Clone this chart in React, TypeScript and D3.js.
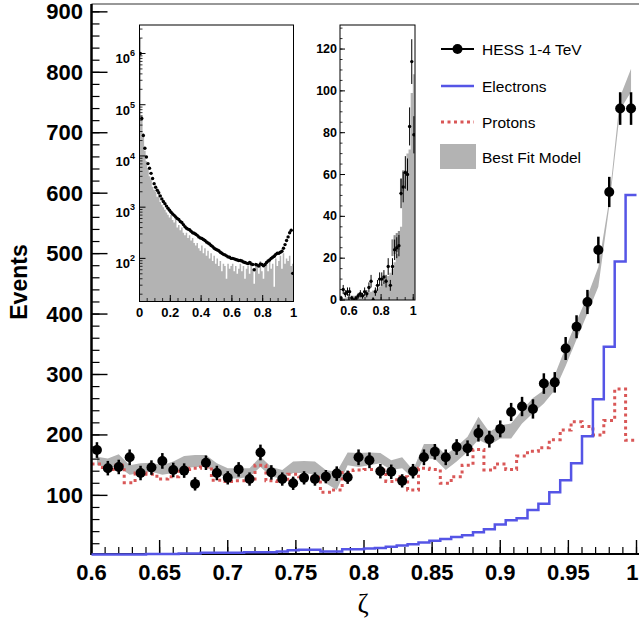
import * as d3 from "d3";

// main histogram: 50 bins of zeta between 0.6 and 1.0
const binEdges = d3.range(51).map((i) => 0.6 + i * 0.008);
const binCenters = d3.range(50).map((i) => 0.604 + i * 0.008);

const hessCounts = [
  175, 145, 147, 163, 137, 146, 157, 142, 141, 119,
  154, 137, 129, 143, 127, 171, 138, 127, 120, 129,
  127, 131, 136, 130, 163, 158, 140, 139, 124, 140,
  163, 172, 163, 180, 178, 203, 193, 210, 238, 247,
  243, 285, 287, 343, 379, 420, 506, 602, 740, 740,
];
const hessErrors = [
  13, 12, 12, 13, 12, 12, 13, 12, 12, 11,
  12, 12, 11, 12, 11, 13, 12, 11, 11, 11,
  11, 11, 12, 11, 13, 13, 12, 12, 11, 12,
  13, 13, 13, 13, 13, 14, 14, 14, 15, 16,
  16, 17, 17, 19, 19, 20, 22, 25, 27, 27,
];
const modelLow = [
  150, 147, 147, 134, 137, 139, 134, 137, 145, 147,
  147, 137, 128, 128, 131, 147, 131, 128, 137, 137,
  134, 120, 109, 150, 147, 150, 153, 142, 145, 128,
  161, 160, 142, 156, 172, 192, 183, 194, 194, 219,
  236, 252, 274, 314, 358, 401, 445, 578, 738, 768,
];
const modelHigh = [
  164, 161, 168, 150, 153, 154, 150, 156, 165, 167,
  167, 153, 145, 145, 145, 164, 147, 142, 156, 157,
  156, 142, 139, 171, 170, 171, 170, 158, 163, 142,
  185, 185, 167, 181, 197, 230, 205, 216, 219, 241,
  261, 274, 299, 345, 388, 430, 478, 589, 760, 806,
];
const electrons = [
  2, 2, 2, 2, 2, 3, 3, 3, 4, 4,
  5, 5, 5, 5, 6, 6, 6, 7, 9, 10,
  10, 7, 7, 11, 11, 12, 13, 15, 17, 19,
  22, 25, 28, 31, 34, 39, 44, 52, 59, 62,
  76, 86, 105, 125, 153, 198, 259, 346, 487, 597,
];
const protons = [
  152, 143, 150, 121, 137, 135, 127, 131, 143, 145,
  147, 125, 123, 124, 127, 150, 124, 123, 135, 131,
  130, 105, 109, 138, 142, 143, 142, 123, 131, 109,
  145, 143, 120, 131, 150, 176, 142, 152, 143, 165,
  173, 179, 192, 208, 222, 214, 200, 224, 276, 191,
];

const xMajor = [0.6, 0.65, 0.7, 0.75, 0.8, 0.85, 0.9, 0.95, 1];
const xMajorLabels = ["0.6", "0.65", "0.7", "0.75", "0.8", "0.85", "0.9", "0.95", "1"];
const yMajor = [100, 200, 300, 400, 500, 600, 700, 800, 900];

// inset 1: full zeta range, log scale, 100 bins of 0.01
const fullCounts = [
  1000000, 53700, 25100, 14100, 9550, 7080, 5750, 4570, 3630, 2880,
  2450, 2140, 1910, 1660, 1450, 1290, 1170, 1050, 955, 870,
  794, 741, 692, 646, 603, 575, 525, 501, 457, 417,
  389, 372, 363, 339, 316, 309, 295, 282, 263, 251,
  245, 234, 224, 209, 200, 191, 178, 170, 158, 151,
  146, 141, 132, 126, 120, 117, 112, 107, 105, 100,
  100, 98, 95, 93, 91, 91, 89, 85, 83, 81,
  79, 83, 78, 76, 60, 76, 74, 71, 78, 76,
  72, 76, 83, 89, 93, 100, 105, 110, 120, 126,
  126, 132, 138, 158, 186, 224, 263, 316, 355, 51,
];
const fullModel = [
  2000000, 63000, 28000, 12600, 7900, 5600, 4000, 3500, 2500, 2200,
  2000, 1600, 2200, 1260, 1120, 1000, 890, 790, 710, 630,
  710, 560, 500, 630, 400, 450, 355, 400, 316, 282,
  316, 251, 282, 224, 251, 200, 178, 200, 158, 141,
  178, 126, 158, 112, 141, 100, 126, 89, 112, 79,
  100, 71, 89, 56, 79, 71, 40, 79, 63, 71,
  79, 56, 71, 50, 63, 79, 56, 71, 40, 63,
  71, 50, 89, 63, 32, 71, 79, 50, 89, 56,
  40, 71, 79, 56, 89, 63, 79, 28, 100, 71,
  89, 112, 63, 126, 79, 100, 89, 112, 71, 79,
];
const fullXTicks = [0, 0.2, 0.4, 0.6, 0.8, 1];
const fullXLabels = ["0", "0.2", "0.4", "0.6", "0.8", "1"];
const fullDecades = [2, 3, 4, 5, 6];

// inset 2: tail of the distribution, linear scale
const tailEdges = d3.range(36).map((i) => 0.5443 + i * 0.01333);
const tailCounts = [
  1, 5, 3, 4, 4, 1, 0, 1, 2, 3, 2, 4, 3, 6, 9, 0, 4, 7, 10, 10,
  11, 9, 16, 7, 16, 24, 25, 26, 51, 54, 61, 60, 83, 114, 79,
];
const tailErrors = [
  1, 2.2, 1.7, 2, 2, 1, 1, 1, 1.4, 1.7, 1.4, 2, 1.7, 2.4, 3, 1, 2, 2.6, 3.2, 3.2,
  3.3, 3, 4, 2.6, 4, 4.9, 5, 5.1, 7.1, 7.3, 7.8, 7.7, 9.1, 10.7, 8.9,
];
const tailModel = [
  1, 1, 1, 1.5, 1.5, 2, 2, 2, 2, 2.5, 2.5, 3, 3, 3.5, 4, 4.5, 5, 5.5, 6.5, 7.5,
  8.5, 10, 11.5, 13, 15, 18, 22, 27, 35, 57, 62, 70, 72, 99, 108,
];
const tailBandBins = [24, 25, 26, 27, 28, 29];
const tailBandLow = [21, 22, 23, 24, 50, 52];
const tailBandHigh = [29, 31, 32, 33, 58, 62];
const tailYTicks = [0, 20, 40, 60, 80, 100, 120];
const tailXTicks = [0.6, 0.8, 1];
const tailXLabels = ["0.6", "0.8", "1"];

const legendItems = ["HESS 1-4 TeV", "Electrons", "Protons", "Best Fit Model"];

const SANS = "Liberation Sans, Arial, Helvetica, sans-serif";
const BLUE = "#5555e6";
const RED = "#d95757";
const GRAY = "#b3b3b3";

export default function App() {
  const x = d3.scaleLinear().domain([0.6, 1.0]).range([91.5, 636.5]);
  const y = d3.scaleLinear().domain([3, 913]).range([554, 4]);

  const band = d3
    .area<number>()
    .x((_, i) => x(binCenters[i]))
    .y0((_, i) => y(modelLow[i]))
    .y1((_, i) => y(modelHigh[i]));

  const stepLine = (vals: number[]) =>
    d3
      .line<number>()
      .curve(d3.curveStepAfter)
      .x((_, i) => x(binEdges[i]))
      .y((v) => y(v))([...vals, vals[vals.length - 1]]);

  const xMinor = d3.range(41).map((i) => 0.6 + i * 0.01);
  const yMinor = d3.range(1, 46).map((i) => i * 20);

  // inset 1 scales
  const x1 = d3.scaleLinear().domain([0, 1]).range([139.5, 293.5]);
  const y1 = d3.scaleLog().domain([14.4, 3.6e6]).range([301.5, 25]);
  const fullEdges = d3.range(101).map((i) => i * 0.01);
  const fullArea = d3
    .area<number>()
    .curve(d3.curveStepAfter)
    .x((_, i) => x1(fullEdges[i]))
    .y0(301.5)
    .y1((v) => y1(v))([...fullModel, fullModel[99]]);
  const logMinor: number[] = [];
  for (let e = 1; e <= 6; e++)
    for (let m = 2; m <= 9; m++) {
      const v = m * Math.pow(10, e);
      if (v > 14.4 && v < 3.6e6) logMinor.push(v);
    }
  const fullXMinor = d3.range(21).map((i) => i * 0.05);

  // inset 2 scales
  const x2 = d3.scaleLinear().domain([0.5443, 1.011]).range([340, 415]);
  const y2 = d3.scaleLinear().domain([0, 131.5]).range([300, 25]);
  const tailArea = d3
    .area<number>()
    .curve(d3.curveStepAfter)
    .x((_, i) => x2(tailEdges[i]))
    .y0(300)
    .y1((v) => y2(v))([...tailModel, tailModel[tailModel.length - 1]]);
  const tailYMinor = d3.range(0, 131, 5);
  const tailXMinor = d3.range(12, 21).map((i) => i * 0.05);

  const legendY = [49, 86, 122, 157];

  return (
    <svg
      width={639}
      height={618}
      style={{ position: "absolute", left: 0, top: 0, background: "#fff" }}
      fontFamily={SANS}
    >
      <defs>
        <clipPath id="mainClip">
          <rect x={91.5} y={4} width={547} height={552} />
        </clipPath>
        <clipPath id="in1Clip">
          <rect x={139.5} y={25} width={154} height={276.5} />
        </clipPath>
        <clipPath id="in2Clip">
          <rect x={340} y={25} width={75} height={275} />
        </clipPath>
      </defs>
      <rect x={0} y={0} width={639} height={618} fill="#fff" />

      {/* frame top */}
      <line x1={91.5} x2={639} y1={4} y2={4} stroke="#333" strokeWidth={1.2} />

      <g clipPath="url(#mainClip)">
        <path d={band(hessCounts) || ""} fill={GRAY} stroke="none" />
        <path
          d={stepLine(protons) || ""}
          fill="none"
          stroke={RED}
          strokeWidth={3}
          strokeDasharray="3,3.5"
        />
      </g>

      {/* main axes */}
      {xMinor.map((t, i) => (
        <line key={"xm" + i} x1={x(t)} x2={x(t)} y1={554} y2={547} stroke="#000" strokeWidth={1.2} />
      ))}
      {xMajor.map((t, i) => {
        const last = i === xMajor.length - 1;
        return (
          <g key={"xM" + i}>
            <line x1={x(t)} x2={x(t)} y1={554} y2={540} stroke="#000" strokeWidth={1.4} />
            <text
              x={last ? 638.5 : x(t)}
              y={572}
              textAnchor={last ? "end" : "middle"}
              dominantBaseline="central"
              fontSize={22}
              fontWeight="bold"
            >
              {xMajorLabels[i]}
            </text>
          </g>
        );
      })}
      {yMinor.map((t, i) => (
        <line key={"ym" + i} x1={91.5} x2={99.5} y1={y(t)} y2={y(t)} stroke="#000" strokeWidth={1.2} />
      ))}
      {yMajor.map((t, i) => (
        <g key={"yM" + i}>
          <line x1={91.5} x2={107.5} y1={y(t)} y2={y(t)} stroke="#000" strokeWidth={1.4} />
          <text
            x={83}
            y={y(t)}
            textAnchor="end"
            dominantBaseline="central"
            fontSize={22}
            fontWeight="bold"
          >
            {t}
          </text>
        </g>
      ))}
      <line x1={91.5} x2={91.5} y1={4} y2={555} stroke="#000" strokeWidth={2.5} />
      <line x1={90.5} x2={639} y1={554} y2={554} stroke="#000" strokeWidth={2} />

      {/* electrons on top of the axis so the low bins stay visible */}
      <path d={stepLine(electrons) || ""} fill="none" stroke={BLUE} strokeWidth={2.5} />

      {/* data points */}
      {hessCounts.map((v, i) => (
        <g key={"p" + i}>
          <line
            x1={x(binCenters[i])}
            x2={x(binCenters[i])}
            y1={y(v - hessErrors[i])}
            y2={y(v + hessErrors[i])}
            stroke="#000"
            strokeWidth={2.5}
          />
          <circle cx={x(binCenters[i])} cy={y(v)} r={5} fill="#000" />
        </g>
      ))}

      <text
        transform="translate(19,282) rotate(-90)"
        textAnchor="middle"
        dominantBaseline="central"
        fontSize={23}
        fontWeight="bold"
      >
        Events
      </text>
      <text
        x={363}
        y={604}
        textAnchor="middle"
        dominantBaseline="central"
        fontSize={27}
        fontFamily="Liberation Serif, Times New Roman, serif"
      >
        ζ
      </text>

      {/* inset 1: full zeta range */}
      <rect x={139.5} y={25} width={154} height={276.5} fill="#fff" />
      <g clipPath="url(#in1Clip)">
        <path d={fullArea || ""} fill={GRAY} />
        {fullCounts.map((v, i) => (
          <circle key={"f" + i} cx={x1(fullEdges[i] + 0.005)} cy={y1(v)} r={1.7} fill="#000" />
        ))}
      </g>
      <rect x={139.5} y={25} width={154} height={276.5} fill="none" stroke="#000" strokeWidth={1} />
      {logMinor.map((v, i) => (
        <line key={"lm" + i} x1={139.5} x2={142.5} y1={y1(v)} y2={y1(v)} stroke="#000" strokeWidth={0.8} />
      ))}
      {fullDecades.map((e) => (
        <g key={"d" + e}>
          <line x1={139.5} x2={145.5} y1={y1(Math.pow(10, e))} y2={y1(Math.pow(10, e))} stroke="#000" strokeWidth={1} />
          <text x={135} y={y1(Math.pow(10, e)) + 10} textAnchor="end" fontSize={13} fontWeight="bold">
            <tspan>10</tspan>
            <tspan dy={-7} fontSize={9}>
              {e}
            </tspan>
          </text>
        </g>
      ))}
      {fullXMinor.map((t, i) => (
        <line key={"fx" + i} x1={x1(t)} x2={x1(t)} y1={301.5} y2={298} stroke="#000" strokeWidth={0.8} />
      ))}
      {fullXTicks.map((t, i) => (
        <g key={"fX" + i}>
          <line x1={x1(t)} x2={x1(t)} y1={301.5} y2={295} stroke="#000" strokeWidth={1} />
          <text x={x1(t)} y={312} textAnchor="middle" dominantBaseline="central" fontSize={13} fontWeight="bold">
            {fullXLabels[i]}
          </text>
        </g>
      ))}

      {/* inset 2: tail */}
      <rect x={340} y={25} width={75} height={275} fill="#fff" />
      <g clipPath="url(#in2Clip)">
        <path d={tailArea || ""} fill={GRAY} />
        {tailBandBins.map((b, i) => (
          <rect
            key={"tb" + i}
            x={x2(tailEdges[b])}
            y={y2(tailBandHigh[i])}
            width={x2(tailEdges[b + 1]) - x2(tailEdges[b])}
            height={y2(tailBandLow[i]) - y2(tailBandHigh[i])}
            fill="#8a8a8a"
          />
        ))}
        {tailCounts.map((v, i) => {
          const cx = x2((tailEdges[i] + tailEdges[i + 1]) / 2);
          return (
            <g key={"t" + i}>
              <line
                x1={cx}
                x2={cx}
                y1={y2(Math.max(0, v - tailErrors[i]))}
                y2={y2(v + tailErrors[i])}
                stroke="#000"
                strokeWidth={1}
              />
              <circle cx={cx} cy={y2(v)} r={1.7} fill="#000" />
            </g>
          );
        })}
      </g>
      <rect x={340} y={25} width={75} height={275} fill="none" stroke="#000" strokeWidth={1} />
      {tailYMinor.map((t, i) => (
        <line key={"tym" + i} x1={340} x2={342.5} y1={y2(t)} y2={y2(t)} stroke="#000" strokeWidth={0.8} />
      ))}
      {tailYTicks.map((t, i) => (
        <g key={"tyM" + i}>
          <line x1={340} x2={345} y1={y2(t)} y2={y2(t)} stroke="#000" strokeWidth={1} />
          <text x={337} y={y2(t)} textAnchor="end" dominantBaseline="central" fontSize={12.5} fontWeight="bold">
            {t}
          </text>
        </g>
      ))}
      {tailXMinor.map((t, i) => (
        <line key={"txm" + i} x1={x2(t)} x2={x2(t)} y1={300} y2={297} stroke="#000" strokeWidth={0.8} />
      ))}
      {tailXTicks.map((t, i) => (
        <g key={"txM" + i}>
          <line x1={x2(t)} x2={x2(t)} y1={300} y2={294} stroke="#000" strokeWidth={1} />
          <text x={x2(t)} y={311} textAnchor="middle" dominantBaseline="central" fontSize={12.5} fontWeight="bold">
            {tailXLabels[i]}
          </text>
        </g>
      ))}

      {/* legend */}
      <g>
        <line x1={441} x2={474} y1={legendY[0]} y2={legendY[0]} stroke="#000" strokeWidth={2} />
        <circle cx={457.5} cy={legendY[0]} r={5} fill="#000" />
        <line x1={441} x2={474} y1={legendY[1]} y2={legendY[1]} stroke={BLUE} strokeWidth={2.5} />
        <line
          x1={441}
          x2={474}
          y1={legendY[2]}
          y2={legendY[2]}
          stroke={RED}
          strokeWidth={3}
          strokeDasharray="3,3.5"
        />
        <rect x={440} y={legendY[3] - 13} width={36} height={25} fill={GRAY} />
        {legendItems.map((s, i) => (
          <text key={"l" + i} x={482} y={legendY[i]} dominantBaseline="central" fontSize={15.5}>
            {s}
          </text>
        ))}
      </g>
    </svg>
  );
}
